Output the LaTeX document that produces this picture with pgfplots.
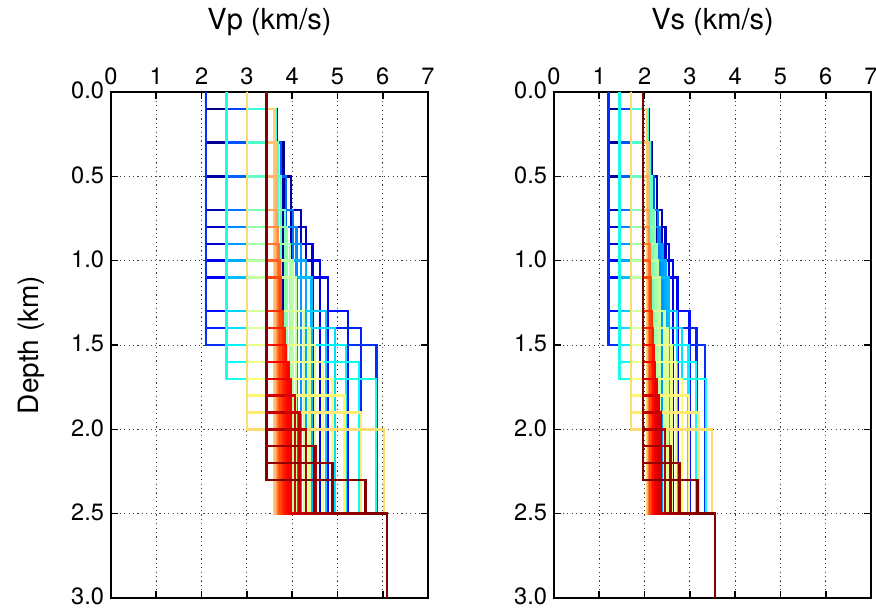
\documentclass[border=0pt]{standalone}
\usepackage{fontspec}
\setmainfont{TeX Gyre Heros}
\usepackage{pgfplots}
\pgfplotsset{compat=1.18}
% jet-like palette, 59 curves (index k = 0..58)
\pgfplotsforeachungrouped \k in {0,...,58}{%
 \pgfmathsetmacro\jx{\k/58}%
 \pgfmathsetmacro\jr{max(0,min(1,min(4*\jx-1.5,4.5-4*\jx)))}%
 \pgfmathsetmacro\jg{max(0,min(1,min(4*\jx-0.5,3.5-4*\jx)))}%
 \pgfmathsetmacro\jb{max(0,min(1,min(4*\jx+0.5,2.5-4*\jx)))}%
 \pgfmathsetmacro\jw{0.45*max(0,min(1,min((\jx-0.4)/0.15,(0.82-\jx)/0.1)))}%
 \pgfmathsetmacro\jr{\jr+(1-\jr)*\jw}%
 \pgfmathsetmacro\jg{\jg+(1-\jg)*\jw*0.6}%
 \pgfmathsetmacro\jb{\jb+(1-\jb)*\jw}%
 \definecolor{jet\k}{rgb}{\jr,\jg,\jb}%
}
% one layered profile: color index, v1, h, v2, half-space
\newcommand\prof[5]{\addplot[draw=jet#1] coordinates {(#2,0) (#2,#3) (#4,#3) (#4,2.5) (#5,2.5) (#5,3)};}
\pgfplotsset{
 panel/.style={
  scale only axis, width=158.5pt, height=253pt,
  xmin=0, xmax=7, ymin=0, ymax=3, y dir=reverse,
  xtick={0,...,7}, ytick={0,0.5,...,3},
  xticklabel pos=right,
  yticklabel style={yshift=0.6pt, /pgf/number format/.cd, fixed, fixed zerofill, precision=1},
  /pgf/number format/assume math mode=true,
  tick align=inside, major tick length=3.5pt,
  every tick/.style={black, line width=0.8pt},
  axis line style={line width=1.3pt},
  grid=major,
  grid style={black!75, dash pattern=on 0.6pt off 1.6pt, line width=0.5pt},
  tick label style={font=\fontsize{11.8}{14}\selectfont},
  label style={font=\fontsize{14}{16}\selectfont},
  title style={at={(0.5,1)}, anchor=base, yshift=25pt, font=\fontsize{14.5}{17}\selectfont},
  every axis plot/.append style={line width=1.2pt, no markers},
 }
}
\begin{document}
\begin{tikzpicture}
\useasboundingbox (0,0) rectangle (438pt,304pt);
\begin{axis}[panel, at={(55.5pt,5pt)}, anchor=south west,
  title={Vp (km/s)}, ylabel={Depth (km)},
  ylabel style={at={(rel axis cs:0,0.5)}, anchor=center, yshift=40pt}]
% blue family, v1 = 2.10
\prof{0}{2.10}{0.1}{3.66}{6.10}
\prof{1}{2.10}{0.3}{3.81}{6.10}
\prof{2}{2.10}{0.5}{3.98}{6.10}
\prof{3}{2.10}{0.7}{4.19}{6.10}
\prof{4}{2.10}{0.8}{4.31}{6.10}
\prof{5}{2.10}{0.9}{4.45}{6.10}
\prof{6}{2.10}{1.0}{4.61}{6.10}
\prof{7}{2.10}{1.1}{4.79}{6.10}
\prof{8}{2.10}{1.3}{5.23}{6.10}
\prof{9}{2.10}{1.4}{5.52}{6.10}
\prof{10}{2.10}{1.5}{5.86}{6.10}
% cyan family, v1 = 2.55
\prof{11}{2.55}{0.1}{3.65}{6.10}
\prof{12}{2.55}{0.3}{3.75}{6.10}
\prof{13}{2.55}{0.5}{3.87}{6.10}
\prof{14}{2.55}{0.7}{4.02}{6.10}
\prof{15}{2.55}{0.8}{4.10}{6.10}
\prof{16}{2.55}{0.9}{4.20}{6.10}
\prof{17}{2.55}{1.0}{4.31}{6.10}
\prof{18}{2.55}{1.1}{4.43}{6.10}
\prof{19}{2.55}{1.3}{4.75}{6.10}
\prof{20}{2.55}{1.4}{4.95}{6.10}
\prof{21}{2.55}{1.5}{5.19}{6.10}
\prof{22}{2.55}{1.6}{5.48}{6.10}
\prof{23}{2.55}{1.7}{5.85}{6.10}
% yellow family, v1 = 3.00
\prof{24}{3.00}{0.1}{3.63}{6.10}
\prof{25}{3.00}{0.3}{3.69}{6.10}
\prof{26}{3.00}{0.5}{3.76}{6.10}
\prof{27}{3.00}{0.7}{3.84}{6.10}
\prof{28}{3.00}{0.8}{3.89}{6.10}
\prof{29}{3.00}{0.9}{3.95}{6.10}
\prof{30}{3.00}{1.0}{4.01}{6.10}
\prof{31}{3.00}{1.1}{4.08}{6.10}
\prof{32}{3.00}{1.3}{4.26}{6.10}
\prof{33}{3.00}{1.4}{4.38}{6.10}
\prof{34}{3.00}{1.5}{4.51}{6.10}
\prof{35}{3.00}{1.6}{4.68}{6.10}
\prof{36}{3.00}{1.7}{4.89}{6.10}
\prof{37}{3.00}{1.8}{5.16}{6.10}
\prof{38}{3.00}{1.9}{5.52}{6.10}
\prof{39}{3.00}{2.0}{6.03}{6.10}
% red family, v1 = 3.43
\prof{40}{3.43}{0.1}{3.61}{6.10}
\prof{41}{3.43}{0.3}{3.63}{6.10}
\prof{42}{3.43}{0.5}{3.65}{6.10}
\prof{43}{3.43}{0.7}{3.67}{6.10}
\prof{44}{3.43}{0.8}{3.69}{6.10}
\prof{45}{3.43}{0.9}{3.70}{6.10}
\prof{46}{3.43}{1.0}{3.72}{6.10}
\prof{47}{3.43}{1.1}{3.74}{6.10}
\prof{48}{3.43}{1.3}{3.80}{6.10}
\prof{49}{3.43}{1.4}{3.83}{6.10}
\prof{50}{3.43}{1.5}{3.87}{6.10}
\prof{51}{3.43}{1.6}{3.92}{6.10}
\prof{52}{3.43}{1.7}{3.98}{6.10}
\prof{53}{3.43}{1.8}{4.06}{6.10}
\prof{54}{3.43}{1.9}{4.16}{6.10}
\prof{55}{3.43}{2.0}{4.31}{6.10}
\prof{56}{3.43}{2.1}{4.52}{6.10}
\prof{57}{3.43}{2.2}{4.89}{6.10}
\prof{58}{3.43}{2.3}{5.62}{6.10}
\end{axis}
\begin{axis}[panel, at={(277pt,5pt)}, anchor=south west,
  title={Vs (km/s)}]
% blue family, v1 = 1.20
\prof{0}{1.20}{0.1}{2.09}{3.56}
\prof{1}{1.20}{0.3}{2.17}{3.56}
\prof{2}{1.20}{0.5}{2.27}{3.56}
\prof{3}{1.20}{0.7}{2.39}{3.56}
\prof{4}{1.20}{0.8}{2.46}{3.56}
\prof{5}{1.20}{0.9}{2.54}{3.56}
\prof{6}{1.20}{1.0}{2.63}{3.56}
\prof{7}{1.20}{1.1}{2.73}{3.56}
\prof{8}{1.20}{1.3}{2.99}{3.56}
\prof{9}{1.20}{1.4}{3.15}{3.56}
\prof{10}{1.20}{1.5}{3.34}{3.56}
% cyan family, v1 = 1.45
\prof{11}{1.45}{0.1}{2.08}{3.56}
\prof{12}{1.45}{0.3}{2.14}{3.56}
\prof{13}{1.45}{0.5}{2.21}{3.56}
\prof{14}{1.45}{0.7}{2.29}{3.56}
\prof{15}{1.45}{0.8}{2.34}{3.56}
\prof{16}{1.45}{0.9}{2.40}{3.56}
\prof{17}{1.45}{1.0}{2.46}{3.56}
\prof{18}{1.45}{1.1}{2.53}{3.56}
\prof{19}{1.45}{1.3}{2.72}{3.56}
\prof{20}{1.45}{1.4}{2.83}{3.56}
\prof{21}{1.45}{1.5}{2.97}{3.56}
\prof{22}{1.45}{1.6}{3.14}{3.56}
\prof{23}{1.45}{1.7}{3.35}{3.56}
% yellow family, v1 = 1.70
\prof{24}{1.70}{0.1}{2.07}{3.56}
\prof{25}{1.70}{0.3}{2.11}{3.56}
\prof{26}{1.70}{0.5}{2.15}{3.56}
\prof{27}{1.70}{0.7}{2.20}{3.56}
\prof{28}{1.70}{0.8}{2.23}{3.56}
\prof{29}{1.70}{0.9}{2.26}{3.56}
\prof{30}{1.70}{1.0}{2.30}{3.56}
\prof{31}{1.70}{1.1}{2.34}{3.56}
\prof{32}{1.70}{1.3}{2.44}{3.56}
\prof{33}{1.70}{1.4}{2.51}{3.56}
\prof{34}{1.70}{1.5}{2.59}{3.56}
\prof{35}{1.70}{1.6}{2.69}{3.56}
\prof{36}{1.70}{1.7}{2.82}{3.56}
\prof{37}{1.70}{1.8}{2.98}{3.56}
\prof{38}{1.70}{1.9}{3.19}{3.56}
\prof{39}{1.70}{2.0}{3.49}{3.56}
% red family, v1 = 1.96
\prof{40}{1.96}{0.1}{2.06}{3.56}
\prof{41}{1.96}{0.3}{2.07}{3.56}
\prof{42}{1.96}{0.5}{2.08}{3.56}
\prof{43}{1.96}{0.7}{2.10}{3.56}
\prof{44}{1.96}{0.8}{2.10}{3.56}
\prof{45}{1.96}{0.9}{2.11}{3.56}
\prof{46}{1.96}{1.0}{2.12}{3.56}
\prof{47}{1.96}{1.1}{2.13}{3.56}
\prof{48}{1.96}{1.3}{2.16}{3.56}
\prof{49}{1.96}{1.4}{2.18}{3.56}
\prof{50}{1.96}{1.5}{2.20}{3.56}
\prof{51}{1.96}{1.6}{2.23}{3.56}
\prof{52}{1.96}{1.7}{2.26}{3.56}
\prof{53}{1.96}{1.8}{2.31}{3.56}
\prof{54}{1.96}{1.9}{2.36}{3.56}
\prof{55}{1.96}{2.0}{2.45}{3.56}
\prof{56}{1.96}{2.1}{2.57}{3.56}
\prof{57}{1.96}{2.2}{2.77}{3.56}
\prof{58}{1.96}{2.3}{3.17}{3.56}
\end{axis}
\end{tikzpicture}
\end{document}
